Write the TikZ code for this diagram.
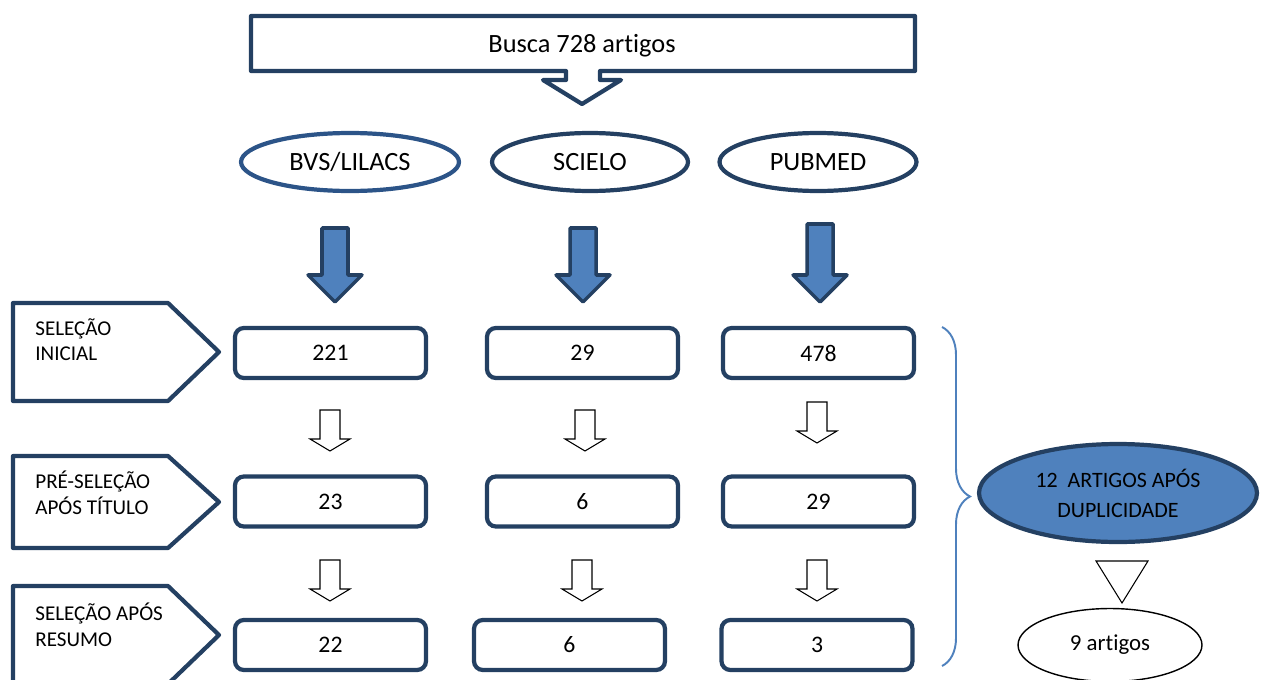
\documentclass[tikz,border=0pt]{standalone}
\usepackage{fontspec}
\setmainfont{Carlito}[Ligatures=NoCommon]
\usetikzlibrary{shapes.geometric,decorations.pathreplacing}
\definecolor{navy}{RGB}{36,64,98}
\definecolor{lilacs}{RGB}{44,84,136}
\definecolor{accent}{RGB}{79,129,189}

\begin{document}
\begin{tikzpicture}[x=0.02cm,y=-0.02cm]
\tikzset{
    numbox/.style={
       draw = navy,
       line width = 2.4pt,
       rounded corners = 5pt,
       minimum width = 3.82cm,
       minimum height = 1cm,
       font = \fontsize{13.5}{15}\selectfont
    },
    base/.style={
       ellipse,
       draw = navy,
       line width = 2.4pt,
       minimum height = 1.16cm,
       font = \fontsize{15}{18}\selectfont
    },
    stage/.style={
       draw = navy,
       line width = 2.4pt,
       line join = round
    },
    stage label/.style={
       anchor = north west,
       align = left,
       inner sep = 0pt,
       font = \fontsize{12}{14.7}\selectfont
    },
    hollow/.style={draw = black, line width = 0.6pt, fill = white},
    bluearrow/.style={draw = navy, line width = 2pt, fill = accent, line join = round}
}
\useasboundingbox (0,0) rectangle (1270,679);
%
% busca
\draw[stage] (251,16) -- (915,16) -- (915,71) -- (600,71) -- (600,80) -- (621,80)
   -- (582,104) -- (543,80) -- (566,80) -- (566,71) -- (251,71) -- cycle;
\node (search) at (582,46) {\fontsize{15}{18}\selectfont Busca 728 artigos};

% bases
\node[base, draw=lilacs, minimum width=4.36cm] (bvs) at (350,162) {BVS/LILACS};
\node[base, minimum width=3.92cm] (scielo) at (590,162) {SCIELO};
\node[base, minimum width=3.94cm] (pubmed) at (818,162) {PUBMED};

\foreach \x/\t in {335/228, 583/228, 820/224}
  \draw[bluearrow] (\x-13,\t) -- (\x+13,\t) -- (\x+13,275) -- (\x+27,275) -- (\x,302)
     -- (\x-27,275) -- (\x-13,275) -- cycle;

% etapas
\draw[stage] (13,303) -- (168,303) -- (219,352) -- (168,401) -- (13,401) -- cycle;
\draw[stage] (13,456) -- (168,456) -- (219,502) -- (168,548) -- (13,548) -- cycle;
\draw[stage] (13,586) -- (168,586) -- (219,635) -- (168,684) -- (13,684) -- cycle;
\node[stage label] (inicial) at (35,318) {SELEÇÃO\\INICIAL};
\node[stage label] (titulo) at (35,471) {PRÉ-SELEÇÃO\\APÓS TÍTULO};
\node[stage label] (resumo) at (35,603) {SELEÇÃO APÓS\\RESUMO};

\node[numbox] (b1) at (330.5,353) {221};
\node[numbox] (s1) at (582.5,353) {29};
\node[numbox] (p1) at (818.5,353) {478};
\node[numbox] (b2) at (330.5,501.5) {23};
\node[numbox] (s2) at (582.5,501.5) {6};
\node[numbox] (p2) at (818.5,501.5) {29};
\node[numbox] (b3) at (330.5,645) {22};
\node[numbox] (s3) at (569.5,645) {6};
\node[numbox] (p3) at (817,645) {3};

\foreach \x/\y in {330/410, 585/410, 817/402, 330/560, 582/560, 817/560}
  \draw[hollow] (\x-10,\y) -- (\x+10,\y) -- (\x+10,\y+29) -- (\x+20,\y+29) -- (\x,\y+41)
     -- (\x-20,\y+29) -- (\x-10,\y+29) -- cycle;

% resultado
\draw[accent, line width=1.1pt, decorate, decoration={brace, amplitude=0.56cm}]
   (942,327) -- (942,666);
\node[ellipse, draw=navy, line width=2.4pt, fill=accent, minimum width=5.56cm,
   minimum height=1.96cm, align=center, font=\fontsize{12.5}{17}\selectfont]
   (dup) at (1118,493) {12\ \ ARTIGOS APÓS\\DUPLICIDADE};
\draw[hollow] (1096,561) -- (1148,561) -- (1122,603) -- cycle;
\node[ellipse, draw=black, line width=0.8pt, minimum width=3.68cm, minimum height=1.46cm,
   font=\fontsize{13}{15}\selectfont] (final) at (1110,645) {9 artigos};
\end{tikzpicture}
\end{document}
